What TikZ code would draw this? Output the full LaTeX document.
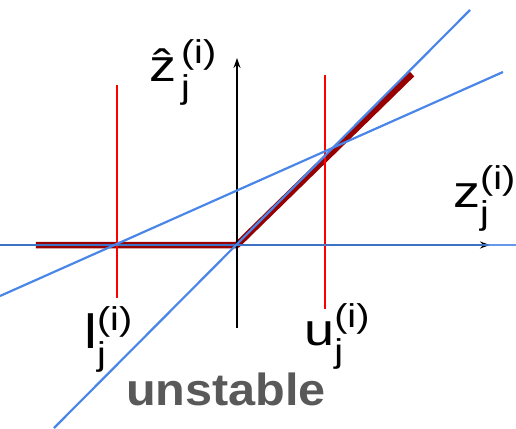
\documentclass[tikz,border=0pt]{standalone}
\usepackage{fontspec}
\setmainfont{Liberation Sans}
\usetikzlibrary{arrows.meta}
\definecolor{tanblue}{RGB}{74,134,232}
\definecolor{relured}{RGB}{152,0,0}
\definecolor{labgray}{RGB}{89,89,89}
\newcommand\scriptsz{\fontsize{33}{33}\selectfont}
\newcommand\jsup[1]{#1\rlap{\raisebox{-17pt}{\scriptsz j}}\raisebox{18pt}{\scriptsz (i)}}
\begin{document}
\begin{tikzpicture}[
        x=1pt, y=1pt,
        line join=round,
        % line styles
        axis/.style={black, line width=1.5pt, -{Stealth[length=10pt,width=7pt]}},
        bound/.style={red, line width=2pt},
        relu/.style={relured, line width=6.5pt},
        tangent/.style={tanblue, line width=2.2pt},
        lab/.style={inner sep=0pt, anchor=base west, xscale=1.2, transform shape,
            font=\fontsize{45}{45}\selectfont},
    ]
    \useasboundingbox (-237,-183) rectangle (279,245);

    % points
    \coordinate (O) at (0,0);
    \coordinate (W) at (-237,0);
    \coordinate (E) at (279,0);
    \coordinate (Xtip) at (253,0);
    \coordinate (Ybot) at (0,-83);
    \coordinate (Ytip) at (0,187);

    % relu
    \draw[relu] (-201,0) -- (O) -- (175,171);

    % axes
    \draw[axis] (W) -- (Xtip);
    \draw[axis] (Ybot) -- (Ytip);

    % bounds l and u
    \draw[bound] (-120,160) -- (-120,-53);
    \draw[bound] (88,170) -- (88,-64);

    % lines
    \draw[tangent, opacity=0.85] (W) -- (E);
    \draw[tangent] (-183,-183) -- (233,235);
    \draw[tangent] (-237,-51) -- (266,173);

    % labels
    \node[lab] (zlab) at (216,37) {\jsup{z}};
    \node[lab] (zhatlab) at (-88,163) {\jsup{\ooalign{z\cr\hidewidth\char"02C6\hidewidth\cr}\kern4pt}};
    \node[lab, font=\fontsize{48}{48}\selectfont] (llab) at (-153,-103) {\jsup{l}};
    \node[lab] (ulab) at (67,-100) {\jsup{u}};
    \node[inner sep=0pt, anchor=base, xscale=1.08, transform shape, text=labgray,
        font=\fontsize{45}{45}\selectfont\bfseries] (unstable) at (-11,-160) {unstable};
\end{tikzpicture}
\end{document}
